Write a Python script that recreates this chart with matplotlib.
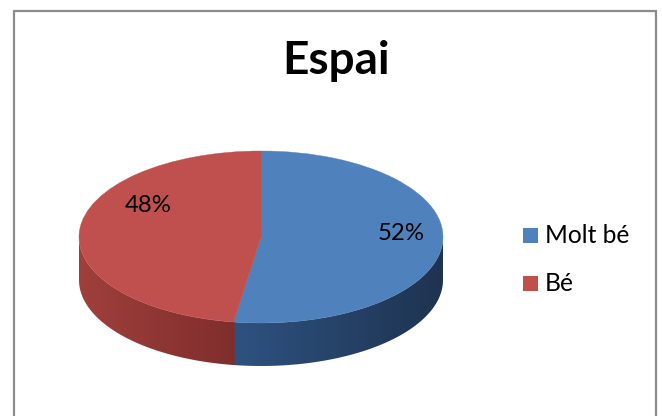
import numpy as np
import matplotlib
matplotlib.use('Agg')
import matplotlib.pyplot as plt
from matplotlib.patches import Polygon, Rectangle, Wedge
from matplotlib.colors import LinearSegmentedColormap
from matplotlib.transforms import Affine2D

plt.rcParams['font.family'] = ['Lato', 'DejaVu Sans']

title = 'Espai'
labels = ['Molt bé', 'Bé']
# the labels show them rounded
values = [52.4, 47.6]
top_colors = ['#4f81bd', '#c0504d']
side_left = ['#2e5280', '#a03f3c']
side_right = ['#1e3350', '#7f2e2c']

fig = plt.figure(figsize=(6.62, 4.16), dpi=100)
ax = fig.add_axes([0, 0, 1, 1])
ax.set_xlim(0, 662)
ax.set_ylim(416, 0)
ax.axis('off')

# frame of the chart, the bottom edge is cut off
ax.add_patch(Rectangle((13.5, 10.5), 642, 420, fc='white', ec='#8c8c8c', lw=1.6))

# pie geometry in pixels
cx, cy = 261, 237
rx, ry = 182, 86
depth = 43

# slices run clockwise from the top
start = 90
angles = []
for v in values:
    end = start - v / sum(values) * 360
    angles.append((end, start))
    start = end


def side_gradient(x0, x1, c0, c1, clip):
    cmap = LinearSegmentedColormap.from_list('s', [c0, c1])
    g = np.linspace(0, 1, 256).reshape(1, -1)
    im = ax.imshow(g, extent=[x0, x1, cy + ry + depth + 2, cy - 2], cmap=cmap,
                   aspect='auto', zorder=2)
    im.set_clip_path(clip)


# the side wall below the front edge, split at the slice border
split = np.radians(angles[0][0])
split_x = cx + rx * np.cos(split)
split_y = cy - ry * np.sin(split)

t = np.linspace(np.pi, 2 * np.pi, 200)
ex = cx + rx * np.cos(t)
ey = cy - ry * np.sin(t)

right = ex >= split_x
rx_pts = np.r_[split_x, ex[right]]
ry_pts = np.r_[split_y, ey[right]]
blue_side = np.c_[np.r_[rx_pts, rx_pts[::-1]], np.r_[ry_pts, ry_pts[::-1] + depth]]
left = ex <= split_x + 1
lx_pts = np.r_[ex[left], split_x + 1]
ly_pts = np.r_[ey[left], split_y]
red_side = np.c_[np.r_[lx_pts, lx_pts[::-1]], np.r_[ly_pts, ly_pts[::-1] + depth]]

p1 = Polygon(blue_side, closed=True, fc='none', ec='none', zorder=2)
p2 = Polygon(red_side, closed=True, fc='none', ec='none', zorder=2)
ax.add_patch(p1)
ax.add_patch(p2)
side_gradient(split_x, cx + rx, side_left[0], side_right[0], p1)
side_gradient(cx - rx, split_x + 1, side_left[1], side_right[1], p2)

# the top of the pie: circle wedges squashed into an ellipse
squash = Affine2D().scale(rx, -ry).translate(cx, cy) + ax.transData
for (a0, a1), col in zip(angles, top_colors):
    ax.add_patch(Wedge((0, 0), 1, a0, a1, fc=col, ec=col, lw=0.3, transform=squash, zorder=3))

ax.set_xlim(0, 662)
ax.set_ylim(416, 0)

ax.text(336, 61, title, fontsize=33, fontweight='bold', ha='center', va='center', color='black', zorder=5)
ax.text(401, 234, '%.0f%%' % values[0], fontsize=17.3, ha='center', va='center', zorder=5)
ax.text(148, 206, '%.0f%%' % values[1], fontsize=17.3, ha='center', va='center', zorder=5)

# legend
for name, col, y in zip(labels, top_colors, [235.5, 283.5]):
    ax.add_patch(Rectangle((523, y - 7.5), 15, 15, fc=col, ec='none', zorder=5))
    ax.text(545, y, name, fontsize=17.7, ha='left', va='center', zorder=5)

fig.savefig('out.png', dpi=100)
